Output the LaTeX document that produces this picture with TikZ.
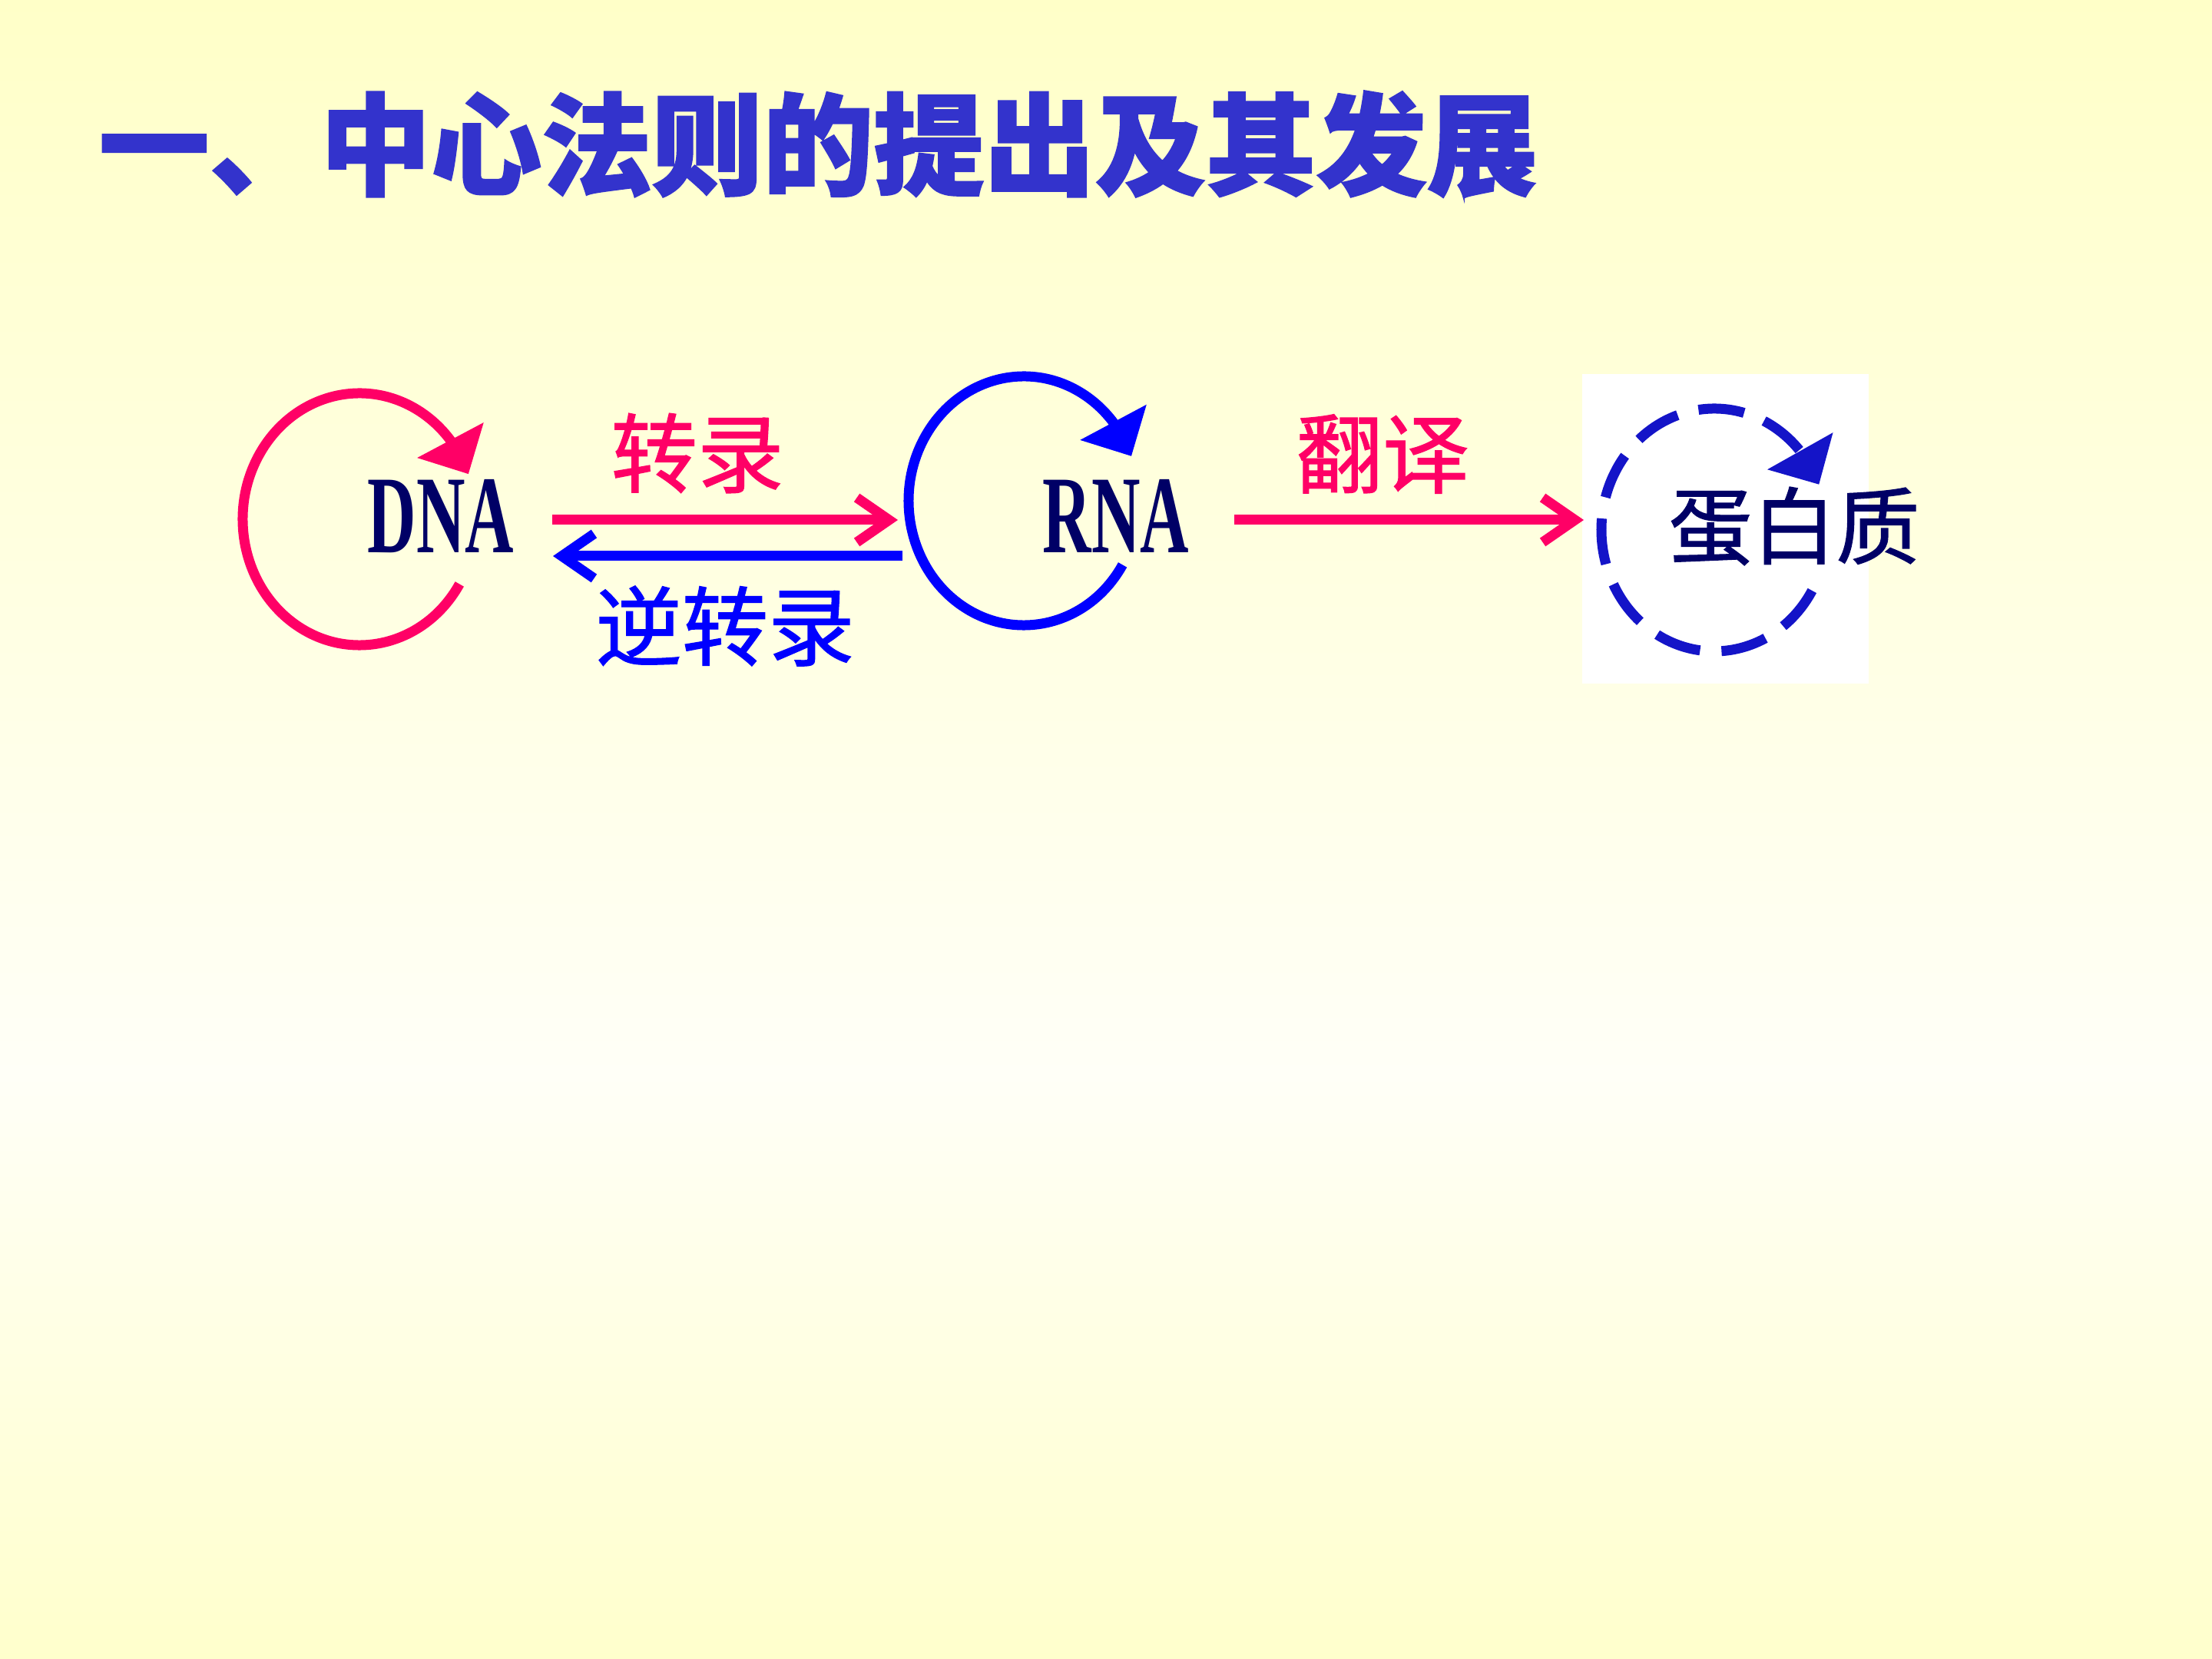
\documentclass[tikz,border=0pt]{standalone}
\usepackage{fontspec}
\usepackage{tikz}
\usetikzlibrary{arrows.meta,bending,calc}
\newfontfamily\cjkfont[FakeBold=1.2]{Noto Sans CJK SC}
\newfontfamily\titlefont[BoldFeatures={FakeBold=1.5}]{Noto Sans CJK SC}
\newfontfamily\narrowserif[FakeStretch=0.61]{Liberation Serif}
\definecolor{bgtop}{RGB}{255,255,200}
\definecolor{bgmid}{RGB}{255,255,247}
\definecolor{bgbot}{RGB}{255,255,204}
\definecolor{titleblue}{RGB}{51,51,204}
\definecolor{dogmared}{RGB}{255,0,102}
\definecolor{dogmablue}{RGB}{0,0,255}
\definecolor{dashblue}{RGB}{20,20,200}
\definecolor{navy}{RGB}{0,0,102}
\tikzset{
  loopline/.style={line width=1.3mm, -{Triangle[width=9.5mm,length=5mm,flex]}},
  redloop/.style={loopline, draw=dogmared},
  blueloop/.style={loopline, draw=dogmablue},
  dashloop/.style={loopline, draw=dashblue, dash pattern=on 6mm off 2.8mm},
  flow/.style={line width=1.3mm, -{Straight Barb[length=4.2mm,width=5.8mm]}},
  molecule/.style={inner sep=0pt, text=navy, font=\narrowserif\bfseries\fontsize{41}{41}\selectfont},
  protein/.style={inner sep=0pt, text=navy, font=\cjkfont\fontsize{31}{31}\selectfont},
  steplbl/.style={inner sep=0pt, font=\cjkfont\fontsize{32}{32}\selectfont},
  heading/.style={inner sep=0pt, anchor=west, text=titleblue,
                  font=\titlefont\bfseries\fontsize{41}{41}\selectfont}
}
\begin{document}
\begin{tikzpicture}
  \useasboundingbox (0,0) rectangle (28.8,-21.6);
  \shade[top color=bgtop, bottom color=bgmid] (0,0) rectangle (28.8,-14);
  \shade[top color=bgmid, bottom color=bgbot] (0,-14) rectangle (28.8,-21.6);
  \fill[white] (20.6,-4.87) rectangle (24.33,-8.9);

  \node[heading] (title) at (1.28,-1.88) {一、中心法则的提出及其发展};

  \coordinate (dnaring) at (4.68,-6.76);
  \coordinate (rnaring) at (13.33,-6.52);
  \coordinate (proring) at (22.32,-6.90);

  \node[molecule] (dna) at (5.74,-6.72) {DNA};
  \node[molecule] (rna) at (14.53,-6.72) {RNA};
  \node[protein] (pro) at (23.36,-6.85) {蛋白质};

  \draw[redloop] ($(dnaring)+(-31:1.52 and 1.64)$)
    arc[start angle=-31, end angle=-339, x radius=1.52, y radius=1.64];
  \draw[blueloop] ($(rnaring)+(-31:1.50 and 1.62)$)
    arc[start angle=-31, end angle=-339, x radius=1.50, y radius=1.62];
  \draw[dashloop] ($(proring)+(-30:1.47 and 1.58)$)
    arc[start angle=-30, end angle=-338, x radius=1.47, y radius=1.58];

  \coordinate (dnaout) at (7.19,-6.77);
  \coordinate (rnain) at (11.69,-6.77);
  \coordinate (rnaout) at (11.75,-7.24);
  \coordinate (dnain) at (7.20,-7.24);
  \coordinate (rnaright) at (16.07,-6.77);
  \coordinate (proin) at (20.62,-6.77);

  \draw[flow, draw=dogmared] (dnaout) -- (rnain);
  \draw[flow, draw=dogmablue] (rnaout) -- (dnain);
  \draw[flow, draw=dogmared] (rnaright) -- (proin);

  \node[steplbl, text=dogmared] (transc) at (9.08,-5.90) {转录};
  \node[steplbl, text=dogmablue] (revtransc) at (9.44,-8.15) {逆转录};
  \node[steplbl, text=dogmared] (transl) at (18.00,-5.91) {翻译};
\end{tikzpicture}
\end{document}
